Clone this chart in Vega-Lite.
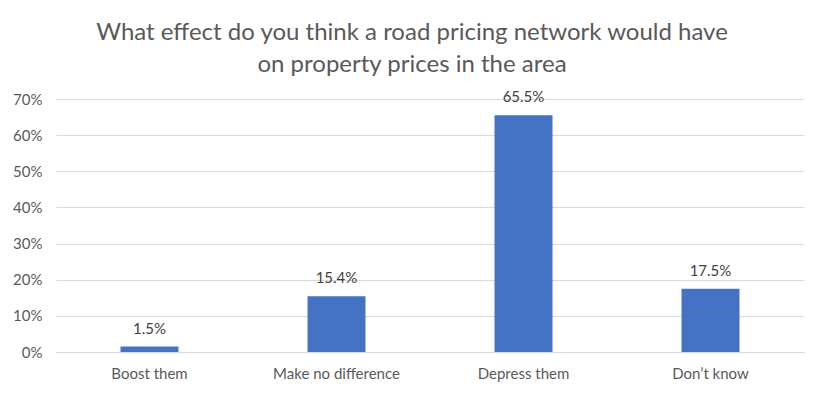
{
  "$schema": "https://vega.github.io/schema/vega-lite/v6.json",
  "width": 825,
  "height": 397,
  "autosize": {"type": "fit", "contains": "padding"},
  "padding": {"left": 12, "top": 23, "right": 21, "bottom": 16},
  "background": "white",
  "config": {
    "view": {"stroke": null},
    "font": "Lato"
  },
  "title": {
    "text": ["What effect do you think a road pricing network would have", "on property prices in the area"],
    "fontSize": 24,
    "font": "Lato",
    "fontWeight": "normal",
    "color": "#595959",
    "lineHeight": 32,
    "offset": 13,
    "dx": -18,
    "anchor": "middle"
  },
  "data": {
    "values": [
      {"answer": "Boost them", "share": 0.015},
      {"answer": "Make no difference", "share": 0.154},
      {"answer": "Depress them", "share": 0.655},
      {"answer": "Don\u2019t know", "share": 0.175}
    ]
  },
  "encoding": {
    "x": {
      "field": "answer",
      "type": "nominal",
      "sort": null,
      "scale": {"paddingInner": 0.69, "paddingOuter": 0.345},
      "axis": {
        "title": null,
        "labelAngle": 0,
        "labelFontSize": 15,
        "labelColor": "#595959",
        "labelPadding": 14,
        "labelOverlap": false,
        "ticks": false,
        "domainColor": "#d9d9d9",
        "domainWidth": 1
      }
    },
    "y": {
      "field": "share",
      "type": "quantitative",
      "scale": {"domain": [0, 0.7]},
      "axis": {
        "title": null,
        "format": ".0%",
        "values": [0, 0.1, 0.2, 0.3, 0.4, 0.5, 0.6, 0.7],
        "labelFontSize": 15,
        "labelColor": "#595959",
        "labelPadding": 14,
        "labelOverlap": false,
        "ticks": false,
        "domain": false,
        "gridColor": "#d9d9d9",
        "gridWidth": 1
      }
    }
  },
  "layer": [
    {"mark": {"type": "bar", "color": "#4472C4"}},
    {
      "mark": {"type": "text", "dy": -10, "fontSize": 15, "color": "#404040", "baseline": "bottom"},
      "encoding": {"text": {"field": "share", "type": "quantitative", "format": ".1%"}}
    }
  ]
}
